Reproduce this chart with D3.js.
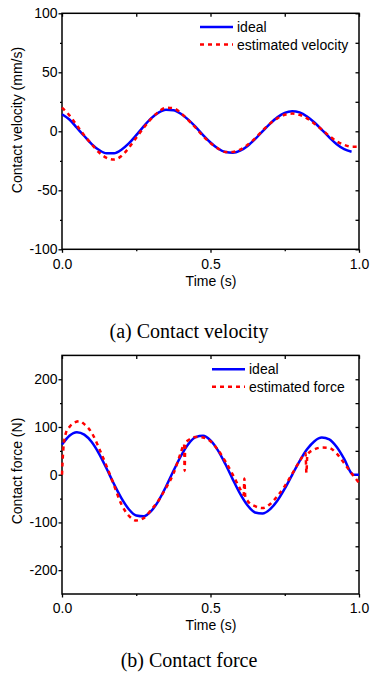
<!DOCTYPE html>
<html>
<head>
<meta charset="utf-8">
<script src="https://cdn.jsdelivr.net/npm/d3@7"></script>
<style>
  html, body { margin: 0; padding: 0; background: #fff; }
  svg { display: block; }
  .tick text { font-family: "Liberation Sans", Arial, sans-serif; font-size: 14px; fill: #000; }
  .domain { display: none; }
  .tick line { stroke: #000; stroke-width: 1.3; }
</style>
</head>
<body>
<svg id="chart" width="376" height="676"></svg>
<script>
// ---- data ----
const timeTicks = [0, 0.5, 1.0];
const timeMinor = [0.25, 0.75];

// (a) contact velocity, sampled every 0.025 s
const velTime = [0, 0.025, 0.05, 0.075, 0.1, 0.125, 0.15, 0.175, 0.2, 0.225, 0.25, 0.275, 0.3, 0.325, 0.35,
  0.375, 0.4, 0.425, 0.45, 0.475, 0.5, 0.525, 0.55, 0.575, 0.6, 0.625, 0.65, 0.675, 0.7, 0.725, 0.75,
  0.775, 0.8, 0.825, 0.85, 0.875, 0.9, 0.925, 0.95, 0.975];
const velIdeal = [14.5, 10, 3, -4, -10.8, -15.9, -18.7, -18.6, -15.6, -10.3, -3.3, 4.2, 10.9, 15.8, 18.2,
  17.8, 14.9, 9.9, 3.7, -3.2, -9.5, -14.6, -17.6, -18.2, -16.4, -12.4, -6.7, -0.1, 6.3, 11.8, 15.6,
  17, 16, 12.6, 7.5, 1.3, -5.1, -10.9, -15.1, -17.3];
const velEstTime = velTime.concat([1.0]);
const velEst = [20, 13.5, 5, -3.5, -11, -18, -22.5, -24, -21, -14, -5.5, 3, 10.5, 16.5, 20,
  19.5, 15.5, 9.5, 3, -4, -10, -14.5, -17.5, -17.5, -15.5, -11.5, -6, 0.5, 6.5, 11, 14,
  15, 14, 11, 6.5, 1.5, -4, -8.5, -11.5, -13, -13];
const velTicks = [-100, -50, 0, 50, 100];
const velMinor = [-75, -25, 25, 75];

// (b) contact force
const forceTime = [0, 0.025, 0.05, 0.075, 0.1, 0.125, 0.15, 0.175, 0.2, 0.225, 0.25, 0.275, 0.3, 0.325, 0.35,
  0.375, 0.4, 0.425, 0.45, 0.475, 0.5, 0.525, 0.55, 0.575, 0.6, 0.625, 0.65, 0.675, 0.7, 0.725, 0.75,
  0.775, 0.8, 0.825, 0.85, 0.875, 0.9, 0.925, 0.95, 0.975, 0.98, 1.0];
const forceIdeal = [63, 81.6, 89, 84, 68.5, 43.7, 12.9, -19.6, -49.2, -72.4, -85.5, -87.2, -76.4, -54.7, -25.2,
  7.6, 38.7, 63.8, 78.7, 81.5, 71.8, 51, 22.4, -9.8, -40.3, -64.6, -79.1, -81.4, -72.7, -54.5, -29.2,
  -0.2, 28.5, 53.1, 70.3, 77.8, 74, 58, 33, 2.6, 0, 0];
const forceEstTime = [0, 0.004, 0.012, 0.025, 0.045, 0.06, 0.075, 0.1, 0.125, 0.15, 0.175, 0.2, 0.225, 0.25,
  0.275, 0.3, 0.325, 0.35, 0.375, 0.4, 0.411, 0.413, 0.415, 0.425, 0.45, 0.475, 0.5, 0.525, 0.55, 0.575,
  0.6, 0.612, 0.614, 0.617, 0.625, 0.65, 0.675, 0.7, 0.725, 0.75, 0.775, 0.8, 0.82, 0.823, 0.826, 0.85,
  0.875, 0.9, 0.925, 0.95, 0.975, 1.0];
const forceEst = [0, 50, 85, 100, 110, 112, 106, 88, 55, 18, -22, -62, -86, -96,
  -91, -74, -54, -28, 2, 46, 64, 8, 66, 72, 79, 78, 70, 52, 28, 0,
  -30, -42, -8, -45, -55, -66, -70, -62, -45, -24, 2, 28, 45, 4, 42, 53,
  57, 56, 44, 24, 3, -17];
const forceTicks = [-200, -100, 0, 100, 200];
const forceMinor = [-150, -50, 50, 150];

const svg = d3.select("#chart");
const x0 = 62, x1 = 359;

function drawPanel(p) {
  const g = svg.append("g");
  const x = d3.scaleLinear().domain([0, 1]).range([x0, x1]);
  const y = d3.scaleLinear().domain(p.domain).range([p.bottom, p.top]);

  // left: outward major + minor (plain hyphen minus like the original)
  g.append("g").attr("transform", `translate(${x0},0)`)
    .call(d3.axisLeft(y).tickValues(p.ticks).tickSize(3.5).tickPadding(1).tickFormat(d => String(d)));
  g.append("g").attr("transform", `translate(${x0},0)`)
    .call(d3.axisLeft(y).tickValues(p.minor).tickSize(2).tickFormat(""));
  // right: inward
  g.append("g").attr("transform", `translate(${x1},0)`)
    .call(d3.axisRight(y).tickValues(p.ticks.concat(p.minor)).tickSize(-3.5).tickFormat(""));
  // bottom: outward
  g.append("g").attr("transform", `translate(0,${p.bottom})`)
    .call(d3.axisBottom(x).tickValues(timeTicks).tickSize(3.5).tickPadding(6).tickFormat(d3.format(".1f")));
  g.append("g").attr("transform", `translate(0,${p.bottom})`)
    .call(d3.axisBottom(x).tickValues(timeMinor).tickSize(2).tickFormat(""));
  // top: inward
  g.append("g").attr("transform", `translate(0,${p.top})`)
    .call(d3.axisTop(x).tickValues(timeTicks.concat(timeMinor)).tickSize(-3.5).tickFormat(""));

  // frame
  g.append("rect")
    .attr("x", x0).attr("y", p.top)
    .attr("width", x1 - x0).attr("height", p.bottom - p.top)
    .attr("fill", "none").attr("stroke", "#000").attr("stroke-width", 1.5);

  const line = d3.line().x(d => x(d[0])).y(d => y(d[1])).curve(d3.curveMonotoneX);

  g.append("path")
    .datum(d3.zip(p.idealT, p.ideal))
    .attr("d", line)
    .attr("fill", "none").attr("stroke", "#0000ff").attr("stroke-width", 2.5);

  g.append("path")
    .datum(d3.zip(p.estT, p.est))
    .attr("d", line)
    .attr("fill", "none").attr("stroke", "#ff0000").attr("stroke-width", 2.5)
    .attr("stroke-dasharray", "4,4");

  // axis titles
  g.append("text")
    .attr("transform", `translate(22,${p.titleY}) rotate(-90)`)
    .attr("text-anchor", "middle")
    .attr("font-family", "Liberation Sans, Arial, sans-serif")
    .attr("font-size", 14)
    .text(p.yTitle);

  g.append("text")
    .attr("x", 211).attr("y", p.timeY)
    .attr("text-anchor", "middle")
    .attr("font-family", "Liberation Sans, Arial, sans-serif")
    .attr("font-size", 14)
    .text("Time (s)");

  // legend
  const lg = g.append("g").attr("font-family", "Liberation Sans, Arial, sans-serif").attr("font-size", 14);
  lg.append("line")
    .attr("x1", p.legX).attr("x2", p.legX + 33)
    .attr("y1", p.legY).attr("y2", p.legY)
    .attr("stroke", "#0000ff").attr("stroke-width", 2.5);
  lg.append("text").attr("x", p.legX + 37).attr("y", p.legY + 5).text("ideal");
  lg.append("line")
    .attr("x1", p.legX).attr("x2", p.legX + 33)
    .attr("y1", p.legY + 17.5).attr("y2", p.legY + 17.5)
    .attr("stroke", "#ff0000").attr("stroke-width", 2.5)
    .attr("stroke-dasharray", "4,4");
  lg.append("text").attr("x", p.legX + 37).attr("y", p.legY + 22.5).text(p.estLabel);

  // caption
  g.append("text")
    .attr("x", 189).attr("y", p.capY)
    .attr("text-anchor", "middle")
    .attr("font-family", "Liberation Serif, Times New Roman, serif")
    .attr("font-size", 20)
    .text(p.caption);
}

drawPanel({
  domain: [-100, 100], top: 13.3, bottom: 249.3,
  ticks: velTicks, minor: velMinor,
  idealT: velTime, ideal: velIdeal, estT: velEstTime, est: velEst,
  yTitle: "Contact velocity (mm/s)", titleY: 120, timeY: 285.5,
  legX: 200, legY: 27, estLabel: "estimated velocity",
  caption: "(a) Contact velocity", capY: 337.5
});

drawPanel({
  domain: [-250, 250], top: 355.4, bottom: 594,
  ticks: forceTicks, minor: forceMinor,
  idealT: forceTime, ideal: forceIdeal, estT: forceEstTime, est: forceEst,
  yTitle: "Contact force (N)", titleY: 471, timeY: 629.5,
  legX: 212, legY: 369.3, estLabel: "estimated force",
  caption: "(b) Contact force", capY: 667
});
</script>
</body>
</html>
